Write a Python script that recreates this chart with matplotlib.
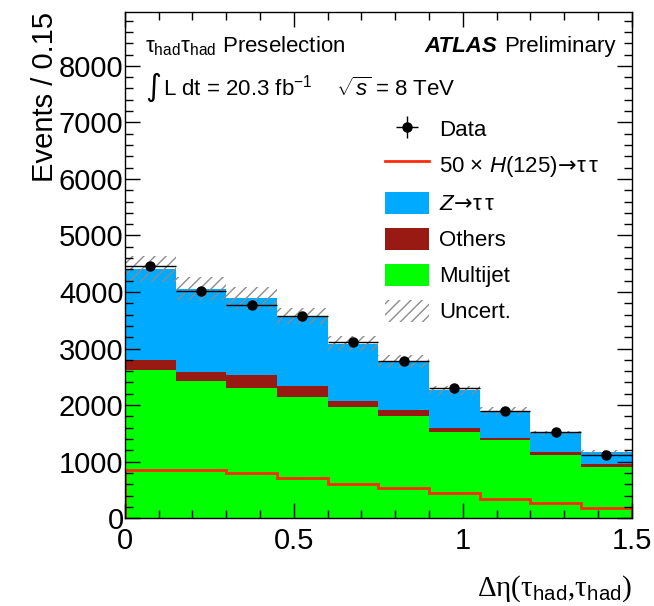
import matplotlib
matplotlib.use("Agg")
import matplotlib.pyplot as plt
from matplotlib.ticker import MultipleLocator
import numpy as np

plt.rcParams['font.family'] = ['Liberation Sans', 'DejaVu Sans']
plt.rcParams['mathtext.fontset'] = 'custom'
plt.rcParams['mathtext.rm'] = 'DejaVu Sans'
plt.rcParams['mathtext.it'] = 'Liberation Sans:italic'
plt.rcParams['mathtext.sf'] = 'Liberation Sans'
plt.rcParams['hatch.linewidth'] = 1.0

# bins of delta eta, width 0.15
edges = [0, 0.15, 0.30, 0.45, 0.60, 0.75, 0.90, 1.05, 1.20, 1.35, 1.50]
centers = [0.075, 0.225, 0.375, 0.525, 0.675, 0.825, 0.975, 1.125, 1.275, 1.425]

multijet = [2626, 2426, 2303, 2149, 1961, 1814, 1519, 1384, 1119, 907]
others = [165, 154, 235, 195, 118, 94, 77, 41, 47, 59]
ztautau = [1620, 1478, 1355, 1225, 1007, 866, 665, 471, 342, 212]
higgs50 = [848, 845, 801, 707, 612, 530, 448, 347, 265, 183]
uncert = [230, 205, 200, 140, 130, 115, 80, 70, 40, 35]

data = [4452, 4011, 3763, 3575, 3115, 2774, 2303, 1896, 1519, 1113]
data_err = [67, 63, 61, 60, 56, 53, 48, 44, 39, 33]

mj = np.array(multijet)
oth = mj + np.array(others)
tot = oth + np.array(ztautau)

fig = plt.figure(figsize=(6.54, 6.06), dpi=100)
ax = fig.add_axes([0.191, 0.145, 0.775, 0.835])

h_mj = ax.stairs(mj, edges, baseline=0, fill=True, color='#00ff00')
h_oth = ax.stairs(oth, edges, baseline=mj, fill=True, color='#991a12')
h_z = ax.stairs(tot, edges, baseline=oth, fill=True, color='#00aaff')
h_unc = ax.bar(centers, 2 * np.array(uncert), bottom=tot - np.array(uncert), width=0.15,
               fill=False, hatch='///', edgecolor='#8c8c8c', linewidth=0)
h_h = ax.stairs(higgs50, edges, baseline=0, color='#ff2a0a', linewidth=2)
h_d = ax.errorbar(centers, data, xerr=0.075, yerr=data_err, fmt='o', color='black',
                  ms=6.5, lw=1, capsize=0)

ax.set_xlim(0, 1.5)
ax.set_ylim(0, 8950)
ax.xaxis.set_minor_locator(MultipleLocator(0.1))
ax.yaxis.set_major_locator(MultipleLocator(1000))
ax.yaxis.set_minor_locator(MultipleLocator(200))
ax.set_xticks([0, 0.5, 1, 1.5], ['0', '0.5', '1', '1.5'])
ax.tick_params(which='both', direction='in', top=True, right=True, width=1, labelsize=21)
ax.tick_params(which='major', length=11)
ax.tick_params(which='minor', length=6)
ax.tick_params(axis='x', pad=6.5)
ax.tick_params(axis='y', pad=1)
for s in ax.spines.values():
    s.set_linewidth(1)

ax.set_ylabel('Events / 0.15', fontsize=21, loc='top')
ax.yaxis.set_label_coords(-0.131, 1.0)
ax.set_xlabel(r'Δη(τ$_\mathsf{had}$,τ$_\mathsf{had}$)', fontsize=21, loc='right',
              family=['Liberation Serif', 'DejaVu Serif'])
ax.xaxis.set_label_coords(1.0, -0.11)

ax.text(0.04, 0.921, r'τ$_\mathregular{had}$τ$_\mathregular{had}$ Preselection',
        transform=ax.transAxes, fontsize=16, va='baseline')
ax.text(0.734, 0.921, 'ATLAS', transform=ax.transAxes, fontsize=16, va='baseline',
        ha='right', weight='bold', style='italic')
ax.text(0.968, 0.921, 'Preliminary', transform=ax.transAxes, fontsize=16, va='baseline',
        ha='right')
ax.text(0.04, 0.834, r'$\int$', transform=ax.transAxes, fontsize=22, va='baseline')
ax.text(0.075, 0.834, r'L dt = 20.3 fb$^\mathregular{-1}$    $\sqrt{\mathit{s}}$ = 8 TeV',
        transform=ax.transAxes, fontsize=16, va='baseline')

ax.legend([h_d, h_h, h_z, h_oth, h_mj, h_unc],
          ['Data', r'50 × $\mathit{H}$(125)$\!\rightarrow\!$τ$\,$τ',
           r'$\mathit{Z}\!\rightarrow\!$τ$\,$τ',
           'Others', 'Multijet', 'Uncert.'],
          loc='upper left', bbox_to_anchor=(0.513, 0.791), frameon=False, fontsize=16,
          handlelength=2.0, handleheight=1.15, handletextpad=0.45, labelspacing=0.56,
          borderpad=0, borderaxespad=0)

fig.savefig('out.png', dpi=100)
